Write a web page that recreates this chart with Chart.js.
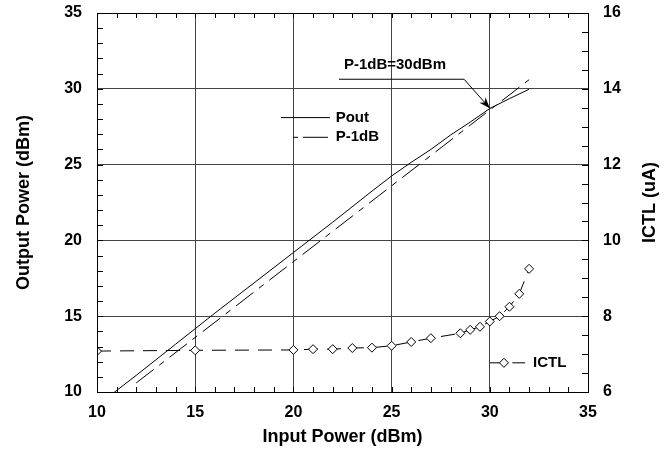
<!DOCTYPE html>
<html>
<head>
<meta charset="utf-8">
<script src="https://cdn.jsdelivr.net/npm/chart.js@4.4.1/dist/chart.umd.min.js"></script>
<style>
  html, body { margin: 0; padding: 0; background: #fff; }
  #wrap { width: 672px; height: 453px; }
</style>
</head>
<body>
<div id="wrap"><canvas id="paChart"></canvas></div>
<script>
// Values
const inputPower = [10, 12, 14, 16, 18, 20, 22, 24, 25, 26, 27, 28, 29, 30, 31, 32];
const outputPower = [9.1, 11.1, 13.15, 15.2, 17.2, 19.2, 21.2, 23.25, 24.25, 25.15, 26.0, 26.95, 27.8, 28.7, 29.35, 29.97];

const p1dbInput = [12, 32];
const p1dbOutput = [10.6, 30.6];

const ictlInput = [10, 15, 20, 21, 22, 23, 24, 25, 26, 27, 28.5, 29, 29.5, 30, 30.5, 31, 31.5, 32];
const ictlCurrent = [7.08, 7.10, 7.11, 7.13, 7.13, 7.16, 7.17, 7.22, 7.32, 7.42, 7.55, 7.64, 7.72, 7.86, 8.0, 8.25, 8.59, 9.25];

const xRange = [10, 35];
const yRange = [10, 35];
const y2Range = [6, 16];

const FONT = '"Liberation Sans", Arial, Helvetica, sans-serif';
const P1DB_DASH = [22, 7, 6, 7];
const ICTL_DASH = [14, 9];

function toPoints(xs, ys) {
    return xs.map((x, i) => ({ x: x, y: ys[i] }));
}

// minor ticks, frame, in-plot legend, right title and the P-1dB callout
const decorPlugin = {
    id: 'decor',
    afterDatasetsDraw(chart) {
        const { ctx, chartArea: a, scales } = chart;
        const x = scales.x, y = scales.y, y2 = scales.y2;
        ctx.save();
        ctx.strokeStyle = '#000';
        ctx.lineWidth = 1;

        // inward minor ticks on all four sides
        ctx.beginPath();
        for (let v = xRange[0]; v <= xRange[1]; v += 1) {
            const px = Math.round(x.getPixelForValue(v)) + 0.5;
            ctx.moveTo(px, a.bottom); ctx.lineTo(px, a.bottom - 5);
            ctx.moveTo(px, a.top); ctx.lineTo(px, a.top + 5);
        }
        for (let v = yRange[0]; v <= yRange[1]; v += 1) {
            const py = Math.round(y.getPixelForValue(v)) + 0.5;
            ctx.moveTo(a.left, py); ctx.lineTo(a.left + 6, py);
        }
        for (let v = y2Range[0]; v <= y2Range[1]; v += 0.5) {
            const py = Math.round(y2.getPixelForValue(v)) + 0.5;
            ctx.moveTo(a.right, py); ctx.lineTo(a.right - 6, py);
        }
        ctx.stroke();

        // frame
        ctx.strokeRect(Math.round(a.left) + 0.5, Math.round(a.top) + 0.5,
            Math.round(a.right - a.left), Math.round(a.bottom - a.top));

        ctx.fillStyle = '#000';
        ctx.textBaseline = 'middle';

        // right axis title, reading bottom to top like the left one
        ctx.save();
        ctx.font = 'bold 18px ' + FONT;
        ctx.textAlign = 'center';
        ctx.translate(650, (a.top + a.bottom) / 2);
        ctx.rotate(-Math.PI / 2);
        ctx.fillText('ICTL (uA)', 0, 0);
        ctx.restore();

        // legend for the two power curves
        ctx.font = 'bold 15px ' + FONT;
        ctx.textAlign = 'left';

        const ly1 = y.getPixelForValue(28.1);
        const ly2 = y.getPixelForValue(26.8);
        ctx.beginPath();
        ctx.moveTo(x.getPixelForValue(19.37), ly1);
        ctx.lineTo(x.getPixelForValue(21.86), ly1);
        ctx.stroke();
        ctx.fillText('Pout', x.getPixelForValue(22.15), ly1);

        ctx.setLineDash([5, 5, 25, 0]);
        ctx.beginPath();
        ctx.moveTo(x.getPixelForValue(19.98), ly2);
        ctx.lineTo(x.getPixelForValue(21.76), ly2);
        ctx.stroke();
        ctx.setLineDash([]);
        ctx.fillText('P-1dB', x.getPixelForValue(22.15), ly2);

        // legend for ICTL
        const ly3 = y2.getPixelForValue(6.77);
        const lx0 = x.getPixelForValue(30.0);
        const lxd = x.getPixelForValue(30.72);
        ctx.beginPath();
        ctx.moveTo(lx0, ly3); ctx.lineTo(lxd - 4, ly3);
        ctx.moveTo(x.getPixelForValue(31.15), ly3); ctx.lineTo(x.getPixelForValue(31.8), ly3);
        ctx.stroke();
        ctx.beginPath();
        ctx.moveTo(lxd, ly3 - 4.5); ctx.lineTo(lxd + 4.5, ly3);
        ctx.lineTo(lxd, ly3 + 4.5); ctx.lineTo(lxd - 4.5, ly3);
        ctx.closePath();
        ctx.fillStyle = '#fff';
        ctx.fill();
        ctx.stroke();
        ctx.fillStyle = '#000';
        ctx.fillText('ICTL', x.getPixelForValue(32.2), ly3);

        // callout: P-1dB = 30 dBm
        ctx.textAlign = 'center';
        ctx.fillText('P-1dB=30dBm', x.getPixelForValue(25.17), y.getPixelForValue(31.57));
        const sx = x.getPixelForValue(22.32), sy = y.getPixelForValue(30.63);
        const ex = x.getPixelForValue(28.69);
        const tx = x.getPixelForValue(30), ty = y.getPixelForValue(28.72);
        ctx.beginPath();
        ctx.moveTo(sx, sy); ctx.lineTo(ex, sy); ctx.lineTo(tx, ty);
        ctx.stroke();
        const ang = Math.atan2(ty - sy, tx - ex);
        const hl = 11, hw = 4;
        ctx.beginPath();
        ctx.moveTo(tx, ty);
        ctx.lineTo(tx - hl * Math.cos(ang) + hw * Math.sin(ang), ty - hl * Math.sin(ang) - hw * Math.cos(ang));
        ctx.lineTo(tx - hl * 0.7 * Math.cos(ang), ty - hl * 0.7 * Math.sin(ang));
        ctx.lineTo(tx - hl * Math.cos(ang) - hw * Math.sin(ang), ty - hl * Math.sin(ang) + hw * Math.cos(ang));
        ctx.closePath();
        ctx.fill();

        ctx.restore();
    }
};

const tickFont = { family: FONT, size: 16, weight: 'bold' };
const titleFont = { family: FONT, size: 18, weight: 'bold' };

function fixVertical(width) {
    return function (scale) {
        scale.width = width;
        scale.paddingTop = 0;
        scale.paddingBottom = 0;
    };
}

new Chart(document.getElementById('paChart'), {
    type: 'scatter',
    data: {
        datasets: [
            {
                label: 'Pout',
                data: toPoints(inputPower, outputPower),
                showLine: true,
                borderColor: '#000',
                borderWidth: 1,
                pointRadius: 0,
                yAxisID: 'y'
            },
            {
                label: 'P-1dB',
                data: toPoints(p1dbInput, p1dbOutput),
                showLine: true,
                borderColor: '#000',
                borderWidth: 1,
                borderDash: P1DB_DASH,
                pointRadius: 0,
                yAxisID: 'y'
            },
            {
                label: 'ICTL',
                data: toPoints(ictlInput, ictlCurrent),
                showLine: true,
                borderColor: '#000',
                borderWidth: 1,
                borderDash: ICTL_DASH,
                pointStyle: 'rectRot',
                pointRadius: 4.5,
                pointBorderWidth: 1,
                pointBackgroundColor: '#fff',
                pointBorderColor: '#000',
                yAxisID: 'y2'
            }
        ]
    },
    options: {
        responsive: true,
        maintainAspectRatio: false,
        animation: false,
        events: [],
        layout: { padding: { top: 13, left: 0, right: 0, bottom: 0 } },
        plugins: {
            legend: { display: false },
            tooltip: { enabled: false }
        },
        scales: {
            x: {
                type: 'linear',
                position: 'bottom',
                min: xRange[0],
                max: xRange[1],
                ticks: { stepSize: 5, color: '#000', font: tickFont, padding: 11, maxRotation: 0 },
                grid: { color: '#444', lineWidth: 1, drawTicks: false },
                border: { color: '#000' },
                title: { display: true, text: 'Input Power (dBm)', color: '#000', font: titleFont, padding: 5 },
                afterFit(scale) { scale.height = 61; }
            },
            y: {
                type: 'linear',
                position: 'left',
                min: yRange[0],
                max: yRange[1],
                ticks: { stepSize: 5, color: '#000', font: tickFont, padding: 15 },
                grid: { color: '#444', lineWidth: 1, drawTicks: false },
                border: { color: '#000' },
                title: { display: true, text: 'Output Power (dBm)', color: '#000', font: titleFont, padding: 13 },
                afterFit: fixVertical(97)
            },
            y2: {
                type: 'linear',
                position: 'right',
                min: y2Range[0],
                max: y2Range[1],
                ticks: { stepSize: 2, color: '#000', font: tickFont, padding: 15 },
                grid: { display: false, drawTicks: false },
                border: { color: '#000' },
                title: { display: false },
                afterFit: fixVertical(84)
            }
        }
    },
    plugins: [decorPlugin]
});
</script>
</body>
</html>
